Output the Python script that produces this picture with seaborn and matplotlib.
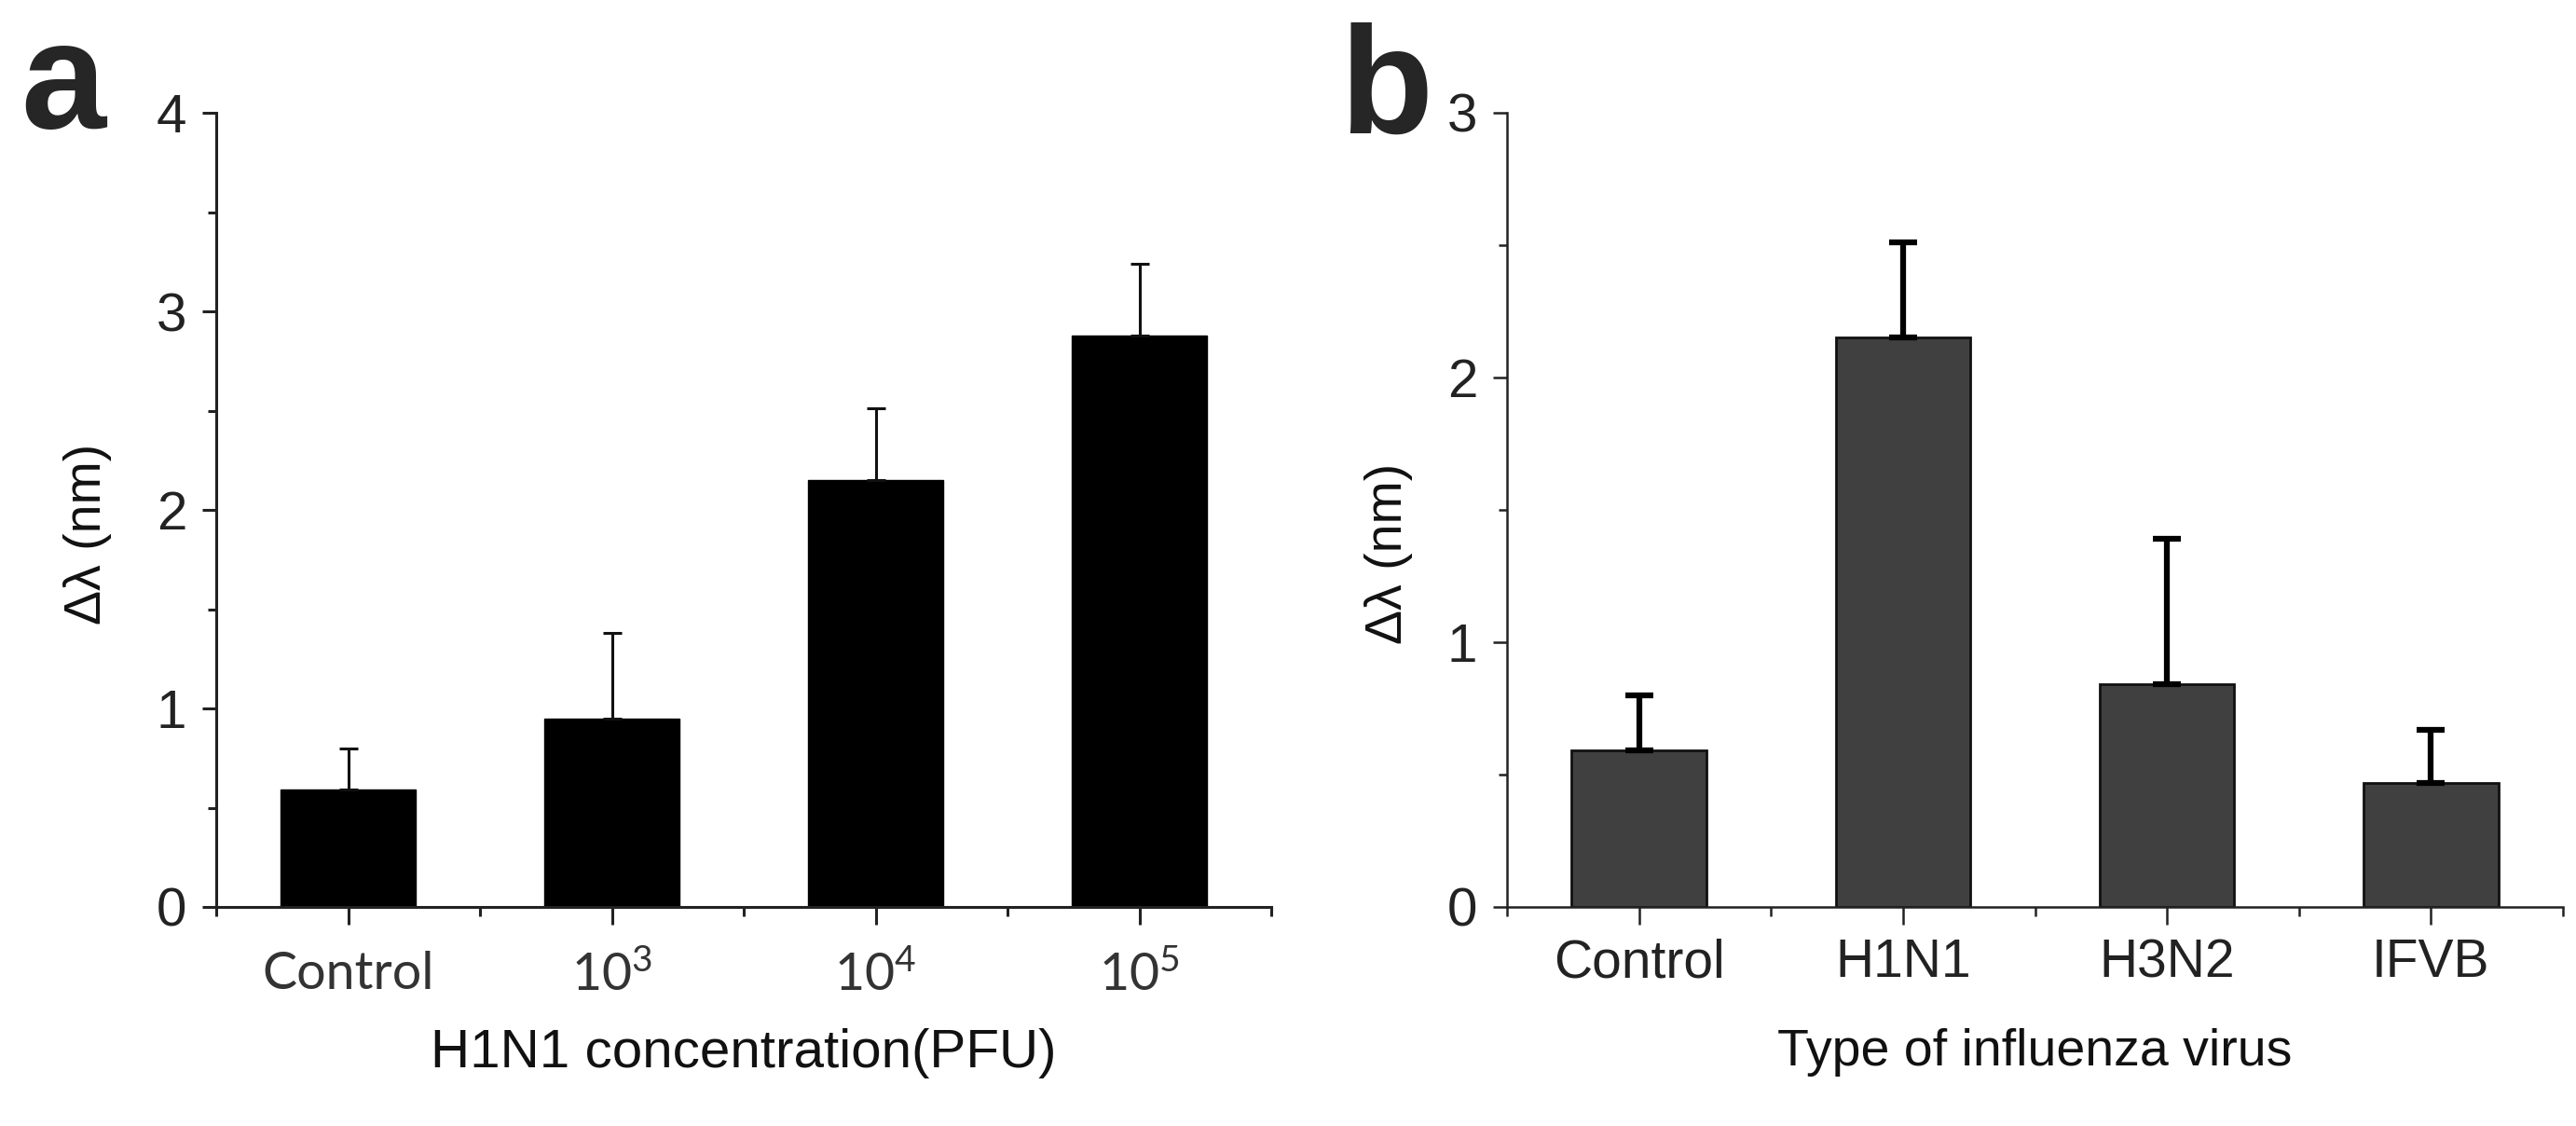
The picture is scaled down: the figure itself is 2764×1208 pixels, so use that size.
import numpy as np
import seaborn as sns
import matplotlib.pyplot as plt
from matplotlib.ticker import MultipleLocator, FixedLocator

# panel a: H1N1 concentration series
conc_labels = ["Control", r"$\mathregular{10^3}$", r"$\mathregular{10^4}$", r"$\mathregular{10^5}$"]
conc_shift = [0.59, 0.95, 2.15, 2.88]
conc_err = [0.21, 0.43, 0.36, 0.36]

# panel b: virus type series
virus_labels = ["Control", "H1N1", "H3N2", "IFVB"]
virus_shift = [0.59, 2.15, 0.84, 0.47]
virus_err = [0.21, 0.36, 0.55, 0.20]

sns.set_style("ticks")
plt.rcParams['font.family'] = ['Liberation Sans', 'DejaVu Sans']
plt.rcParams['mathtext.fontset'] = 'custom'
plt.rcParams['mathtext.rm'] = 'Lato'

W, H = 2764, 1208
fig = plt.figure(figsize=(W / 100, H / 100), dpi=100)
ax_a = fig.add_axes([232 / W, (H - 973) / H, 1132 / W, 852 / H])
ax_b = fig.add_axes([1617 / W, (H - 973) / H, 1133 / W, 852 / H])

narrow = ['Liberation Sans Narrow', 'Liberation Sans', 'DejaVu Sans']


def style_axes(ax, ymax, spine_w, tick_col):
    sns.despine(ax=ax)
    for s in ['left', 'bottom']:
        ax.spines[s].set_linewidth(spine_w)
        ax.spines[s].set_color('#222222')
    ax.set_ylim(0, ymax)
    ax.set_xlim(-0.5, 3.5)
    ax.yaxis.set_major_locator(MultipleLocator(1))
    ax.yaxis.set_minor_locator(MultipleLocator(0.5))
    ax.xaxis.set_minor_locator(FixedLocator([-0.5, 0.5, 1.5, 2.5, 3.5]))
    ax.tick_params(axis='y', which='major', length=11, width=spine_w, color='#222222',
                   labelsize=42, pad=12, labelcolor=tick_col)
    ax.tick_params(axis='y', which='minor', length=6.5, width=spine_w, color='#222222')
    ax.tick_params(axis='x', which='major', length=14, width=spine_w, color='#222222')
    ax.tick_params(axis='x', which='minor', length=7, width=spine_w, color='#222222')
    for lab in ax.get_yticklabels():
        lab.set_family(narrow)


# ---- panel a ----
sns.barplot(x=list(range(4)), y=conc_shift, color='black', saturation=1,
            width=0.51, errorbar=None, ax=ax_a, edgecolor='black', linewidth=1)
ax_a.errorbar(range(4), conc_shift, yerr=[np.zeros(4), conc_err], fmt='none',
              ecolor='#111111', elinewidth=2.2, capsize=7, capthick=2.2)
style_axes(ax_a, 4, 2.2, '#222222')
ax_a.set_xticks(range(4))
ax_a.set_xticklabels(conc_labels, family=['Lato', 'DejaVu Sans'], fontsize=40, color='#333333')
ax_a.tick_params(axis='x', which='major', pad=20)
ax_a.set_xlabel("H1N1 concentration(PFU)", fontsize=42, color='#111111')
ax_a.xaxis.set_label_coords(0.5, -0.152)
ax_a.set_ylabel("Δλ (nm)", fontsize=40, color='#111111')
ax_a.yaxis.set_label_coords(-0.099, 0.47)

# ---- panel b ----
sns.barplot(x=list(range(4)), y=virus_shift, color='#404040', saturation=1,
            width=0.51, errorbar=None, ax=ax_b, edgecolor='#111111', linewidth=2)
ax_b.errorbar(range(4), virus_shift, yerr=[np.zeros(4), virus_err], fmt='none',
              ecolor='black', elinewidth=4.5, capsize=11, capthick=4.5)
style_axes(ax_b, 3, 1.8, '#222222')
ax_b.set_xticks(range(4))
ax_b.set_xticklabels(virus_labels, fontsize=41, color='#222222')
ax_b.tick_params(axis='x', which='major', pad=10)
ax_b.set_xlabel("Type of influenza virus", fontsize=40, color='#111111')
ax_b.xaxis.set_label_coords(0.5, -0.152)
ax_b.set_ylabel("Δλ (nm)", fontsize=40, color='#111111')
ax_b.yaxis.set_label_coords(-0.089, 0.445)

# panel letters
fig.text(22 / W, 1 - 137 / H, "a", fontsize=118, weight='bold', ha='left', va='baseline')
fig.text(1437 / W, 1 - 143 / H, "b", fontsize=118, weight='bold', ha='left', va='baseline')

fig.savefig("out.png", dpi=100)
